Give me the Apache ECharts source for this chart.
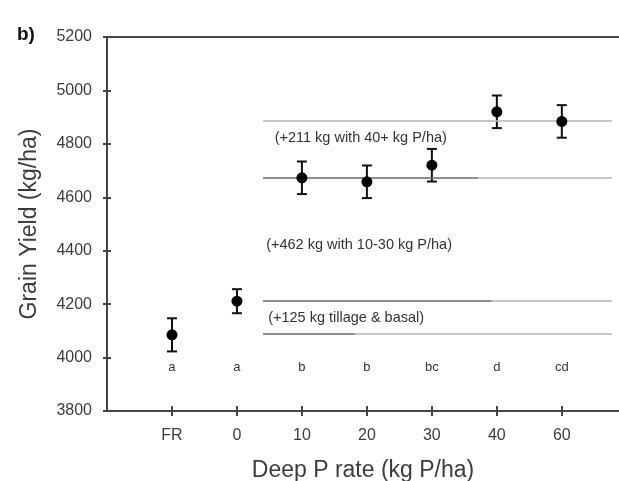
<!DOCTYPE html>
<html>
<head>
<meta charset="utf-8">
<script src="https://cdn.jsdelivr.net/npm/echarts@6/dist/echarts.min.js"></script>
<style>
  html, body { margin: 0; padding: 0; background: #fff; }
  #chart { width: 619px; height: 481px; }
</style>
</head>
<body>
<div id="chart"></div>
<script>
// Deep P placement rates and mean grain yield (kg/ha) with error half-widths
const categories = ['FR', '0', '10', '20', '30', '40', '60'];
const yieldMean = [4085, 4211, 4673, 4658, 4720, 4920, 4884];
const yieldErr = [62, 45, 61, 61, 61, 61, 61];
const sigLetters = ['a', 'a', 'b', 'b', 'bc', 'd', 'cd'];

// Reference yield levels (kg/ha): base, +125, +462, +211
const levelBase = 4088;
const levelGains = [125, 462, 211];
const gainNotes = [
  '(+125 kg tillage & basal)',
  '(+462 kg with 10-30 kg P/ha)',
  '(+211 kg with 40+ kg P/ha)'
];

const yMin = 3800, yMax = 5200, yStep = 200;

// cumulative levels
const levels = [levelBase];
levelGains.forEach(g => levels.push(levels[levels.length - 1] + g));

const FONT = '"Liberation Sans", Arial, sans-serif';
const AXIS_COLOR = '#454545';
const TEXT_COLOR = '#3c3c3c';

const catIdx = categories.map((_, i) => i);
const xMin = -1, xMax = 6.88;
const lineStart = 1.4, lineEnd = 6.77;

// where each reference line changes from dark to light grey
const darkUntil = [2.82, 4.92, 4.71, 1.4];

const refSegments = [];
levels.forEach((lv, i) => {
  if (darkUntil[i] > lineStart) {
    refSegments.push([{ coord: [lineStart, lv], lineStyle: { color: '#6a6a6a' } }, { coord: [darkUntil[i], lv] }]);
  }
  refSegments.push([{ coord: [darkUntil[i], lv], lineStyle: { color: '#b4b4b4' } }, { coord: [lineEnd, lv] }]);
});

// note anchors: [x index, yield] of each note's left edge / vertical centre
const noteAnchors = [
  [1.48, 4150],
  [1.45, 4420],
  [1.58, 4822]
];
const letterLevel = 3962;

const chart = echarts.init(document.getElementById('chart'), null, { renderer: 'canvas' });

const xAxisBase = { type: 'value', min: xMin, max: xMax, interval: 1, splitLine: { show: false } };
const yAxisBase = { type: 'value', min: yMin, max: yMax, interval: yStep, splitLine: { show: false } };

chart.setOption({
  animation: false,
  backgroundColor: '#fff',
  title: {
    text: 'b)', left: 12, top: 20,
    textStyle: { fontFamily: FONT, fontWeight: 'bold', fontSize: 19, color: '#111' }
  },
  grid: { left: 107, right: 0, top: 37, bottom: 70, outerBoundsMode: 'none', containLabel: false },
  xAxis: [
    Object.assign({}, xAxisBase, {
      position: 'bottom',
      name: 'Deep P rate (kg P/ha)',
      nameLocation: 'middle',
      nameGap: 48,
      nameTextStyle: { fontFamily: FONT, fontSize: 23, color: TEXT_COLOR },
      axisLine: { show: true, onZero: false, lineStyle: { color: AXIS_COLOR, width: 2 } },
      axisTick: { show: true, length: 5, customValues: catIdx, lineStyle: { color: AXIS_COLOR, width: 2 } },
      axisLabel: {
        show: true, margin: 17, customValues: catIdx,
        fontFamily: FONT, fontSize: 16, color: TEXT_COLOR,
        formatter: v => categories[Math.round(v)] ?? ''
      }
    }),
    Object.assign({}, xAxisBase, {
      position: 'bottom',
      axisLine: { show: false, onZero: false },
      axisTick: { show: true, inside: true, length: 5, customValues: catIdx, lineStyle: { color: AXIS_COLOR, width: 2 } },
      axisLabel: { show: false }
    }),
    Object.assign({}, xAxisBase, {
      position: 'top',
      axisLine: { show: true, onZero: false, lineStyle: { color: AXIS_COLOR, width: 2 } },
      axisTick: { show: false },
      axisLabel: { show: false }
    })
  ],
  yAxis: [
    Object.assign({}, yAxisBase, {
      position: 'left',
      name: 'Grain Yield (kg/ha)',
      nameLocation: 'middle',
      nameGap: 66,
      nameTextStyle: { fontFamily: FONT, fontSize: 23, color: TEXT_COLOR },
      axisLine: { show: true, onZero: false, lineStyle: { color: AXIS_COLOR, width: 2 } },
      axisTick: { show: true, length: 4, lineStyle: { color: AXIS_COLOR, width: 2 } },
      axisLabel: {
        margin: 15, fontFamily: FONT, fontSize: 16, color: TEXT_COLOR,
        formatter: v => String(v)
      }
    }),
    Object.assign({}, yAxisBase, {
      position: 'left',
      axisLine: { show: false, onZero: false },
      axisTick: { show: true, inside: true, length: 4, lineStyle: { color: AXIS_COLOR, width: 2 } },
      axisLabel: { show: false }
    })
  ],
  series: [
    {
      // reference yield levels
      type: 'line',
      data: [],
      silent: true,
      markLine: {
        silent: true,
        symbol: 'none',
        label: { show: false },
        lineStyle: { type: 'solid', width: 1.5 },
        data: refSegments
      }
    },
    {
      // gain notes
      type: 'custom',
      silent: true,
      data: noteAnchors.map((a, i) => [a[0], a[1], i]),
      renderItem: (params, api) => {
        const p = api.coord([api.value(0), api.value(1)]);
        return {
          type: 'text',
          x: p[0], y: p[1],
          style: {
            text: gainNotes[api.value(2)],
            fontFamily: FONT, fontSize: 14.5, fill: '#333',
            align: 'left', verticalAlign: 'middle'
          }
        };
      }
    },
    {
      // significance letters
      type: 'custom',
      silent: true,
      data: catIdx.map(i => [i, letterLevel, i]),
      renderItem: (params, api) => {
        const p = api.coord([api.value(0), api.value(1)]);
        return {
          type: 'text',
          x: p[0], y: p[1],
          style: {
            text: sigLetters[api.value(2)],
            fontFamily: FONT, fontSize: 13, fill: '#333',
            align: 'center', verticalAlign: 'middle'
          }
        };
      }
    },
    {
      // error bars
      type: 'custom',
      silent: true,
      data: catIdx.map(i => [i, yieldMean[i] - yieldErr[i], yieldMean[i] + yieldErr[i]]),
      renderItem: (params, api) => {
        const lo = api.coord([api.value(0), api.value(1)]);
        const hi = api.coord([api.value(0), api.value(2)]);
        const w = 5;
        const st = { stroke: '#111', lineWidth: 2 };
        return {
          type: 'group',
          children: [
            { type: 'line', shape: { x1: lo[0], y1: lo[1], x2: hi[0], y2: hi[1] }, style: st },
            { type: 'line', shape: { x1: hi[0] - w, y1: hi[1], x2: hi[0] + w, y2: hi[1] }, style: st },
            { type: 'line', shape: { x1: lo[0] - w, y1: lo[1], x2: lo[0] + w, y2: lo[1] }, style: st }
          ]
        };
      }
    },
    {
      // mean yield
      type: 'scatter',
      symbol: 'circle',
      symbolSize: 11,
      itemStyle: { color: '#000', opacity: 1 },
      data: catIdx.map(i => [i, yieldMean[i]]),
      z: 5
    }
  ]
});
</script>
</body>
</html>
